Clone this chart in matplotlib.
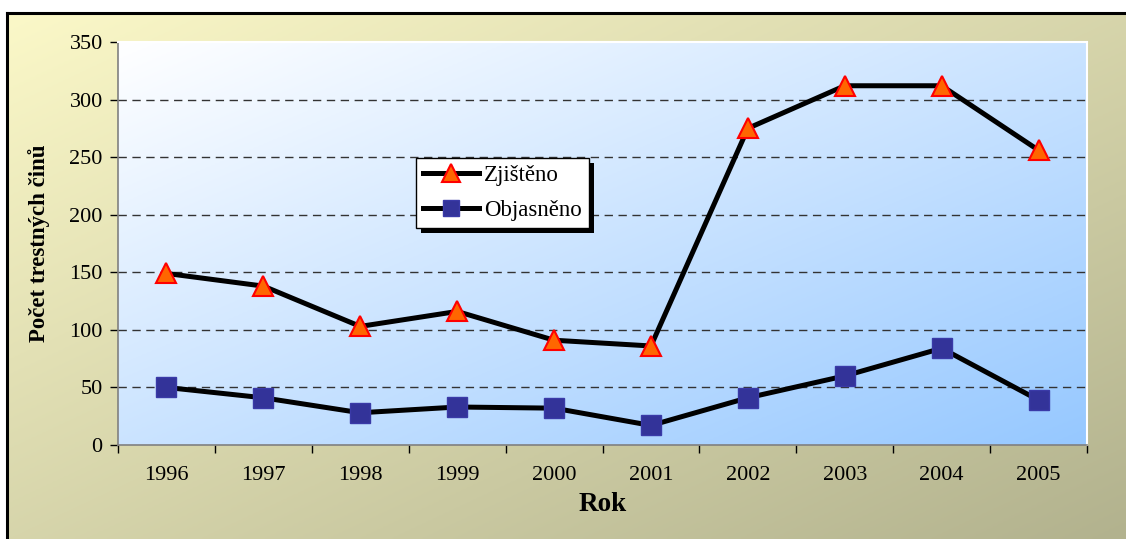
import numpy as np
import matplotlib
matplotlib.use("Agg")
import matplotlib.pyplot as plt
from matplotlib.lines import Line2D
from matplotlib.patches import Rectangle

# data
roky = ["1996", "1997", "1998", "1999", "2000", "2001", "2002", "2003", "2004", "2005"]
zjisteno = [149, 138, 103, 116, 91, 86, 275, 312, 312, 256]
objasneno = [50, 41, 28, 33, 32, 17, 41, 60, 84, 39]

plt.rcParams["font.family"] = ["Liberation Serif", "DejaVu Serif"]


def diag_gradient(c1, c2, n=200):
    # top-left c1 -> bottom-right c2
    xx, yy = np.meshgrid(np.linspace(0, 1, n), np.linspace(0, 1, n))
    t = (xx + yy) / 2
    c1 = np.array(c1) / 255
    c2 = np.array(c2) / 255
    return c1[None, None, :] * (1 - t[..., None]) + c2[None, None, :] * t[..., None]


W, H = 1126, 539
fig = plt.figure(figsize=(W / 100, H / 100), dpi=100)
fig.patch.set_facecolor("white")

# background of chart area
bg = fig.add_axes([8 / W, 0, (W - 8) / W, (H - 14) / H], zorder=-10)
bg.imshow(diag_gradient((251, 248, 200), (178, 178, 142)), aspect="auto",
          extent=[0, 1, 0, 1], origin="upper")
bg.set_axis_off()

# border (top and left)
fig.add_artist(Line2D([7 / W, 1], [(H - 13) / H] * 2, color="black", lw=2.2,
                      transform=fig.transFigure))
fig.add_artist(Line2D([7 / W] * 2, [0, (H - 13) / H], color="black", lw=2.2,
                      transform=fig.transFigure))

ax = fig.add_axes([118 / W, (H - 445) / H, (1087 - 118) / W, (445 - 42) / H])
ax.set_facecolor("none")
x = np.arange(len(roky))
ax.set_xlim(-0.5, len(roky) - 0.5)
ax.set_ylim(0, 350)
ax.imshow(diag_gradient((255, 255, 255), (150, 200, 255)), aspect="auto",
          extent=[-0.5, len(roky) - 0.5, 0, 350], origin="upper", zorder=0)

for v in range(50, 350, 50):
    ax.axhline(v, color="#333333", lw=1, ls=(0, (6, 4)), zorder=1)

ax.plot(x, zjisteno, color="black", lw=3.6, marker="^", markersize=15,
        markerfacecolor="#FF6600", markeredgecolor="#FF0000", markeredgewidth=1.5,
        label="Zjištěno", zorder=3)
ax.plot(x, objasneno, color="black", lw=3.6, marker="s", markersize=14,
        markerfacecolor="#333399", markeredgecolor="#3A3AA8", markeredgewidth=1,
        label="Objasněno", zorder=3)

ax.set_yticks(range(0, 351, 50))
ax.set_xticks(x)
ax.set_xticklabels(roky)
ax.set_xticks(np.arange(-0.5, len(roky)), minor=True)
ax.tick_params(axis="x", which="major", length=0, pad=15, labelsize=16)
ax.tick_params(axis="x", which="minor", length=6, width=1, direction="out", color="black")
ax.tick_params(axis="y", length=6, width=1, direction="out", labelsize=16, pad=5)

for s in ["left", "bottom"]:
    ax.spines[s].set_color("#808080")
    ax.spines[s].set_linewidth(1.2)
for s in ["top", "right"]:
    ax.spines[s].set_color("white")
    ax.spines[s].set_linewidth(1.5)

ax.set_xlabel("Rok", fontsize=19.5, fontweight="bold", labelpad=5)
ax.set_ylabel("Počet trestných činů", fontsize=16.5, fontweight="bold", labelpad=14)

leg = ax.legend(loc="upper left", bbox_to_anchor=(0.308, 0.712), borderaxespad=0,
                fontsize=16.5, handlelength=2.45, markerscale=0.85, frameon=True,
                fancybox=False, edgecolor="black", framealpha=1,
                borderpad=0.3, labelspacing=0.6, handletextpad=0.2)
leg.get_frame().set_linewidth(1)
leg.set_zorder(6)

# legend shadow, offset ~5 px to the lower right
fig.canvas.draw()
bb = leg.get_window_extent()
ax.add_artist(Rectangle((bb.x0 + 5, bb.y0 - 5), bb.width, bb.height,
                        transform=None, facecolor="black", edgecolor="none",
                        zorder=5.5, clip_on=False))

fig.savefig("out.png", dpi=100)
